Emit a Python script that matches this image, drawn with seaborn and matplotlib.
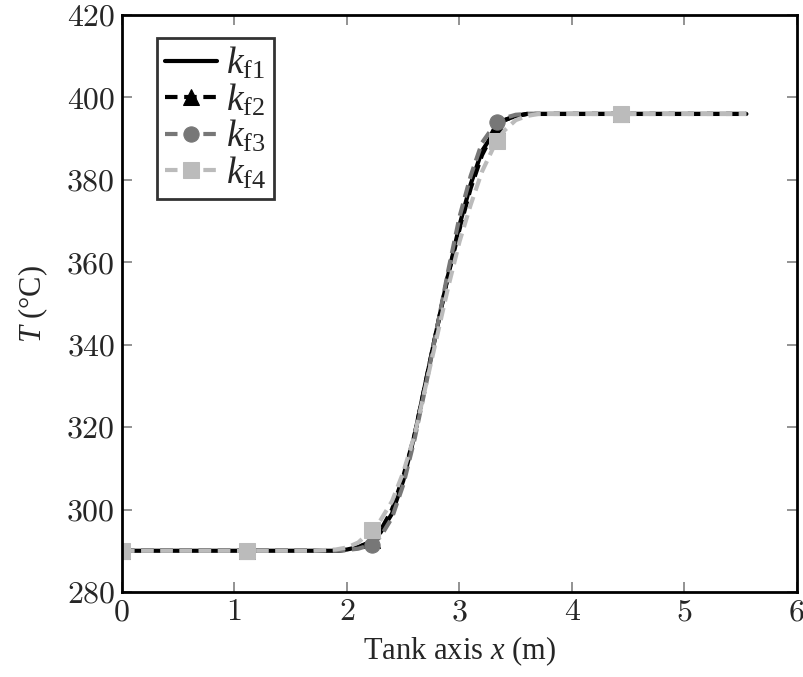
import numpy as np
import pandas as pd
import matplotlib
matplotlib.use("Agg")
import matplotlib.pyplot as plt
import seaborn as sns

# positions along the tank (m)
x_pos = [0.0, 0.555, 1.11, 1.665, 1.9, 2.0, 2.1, 2.22, 2.3, 2.4, 2.5, 2.6, 2.7,
         2.8, 2.9, 3.0, 3.1, 3.2, 3.33, 3.4, 3.5, 3.6, 3.7, 3.85, 4.44, 5.0, 5.55]
mark_idx = [0, 2, 7, 18, 24]

# temperatures (degC)
T_kf1 = [290, 290, 290, 290, 290, 290.3, 290.9, 292.3, 294.5, 299, 307, 318, 331,
         344, 357, 369, 379, 387, 392.5, 394.5, 395.5, 396, 396, 396, 396, 396, 396]
T_kf2 = [290, 290, 290, 290, 290, 290.2, 290.7, 292.5, 295, 300, 308, 318, 331,
         344, 357, 368, 378, 386, 393, 394.5, 395.5, 396, 396, 396, 396, 396, 396]
T_kf3 = [290, 290, 290, 290, 290, 290.2, 290.5, 291.5, 293.5, 298, 306, 317, 330,
         344, 358, 371, 381, 389, 394, 395, 395.8, 396, 396, 396, 396, 396, 396]
T_kf4 = [290, 290, 290, 290, 290.3, 290.8, 292, 295, 297.5, 302, 309, 318, 330,
         342, 354, 365, 374, 382, 389.5, 392, 394.5, 395.5, 396, 396, 396, 396, 396]

series = [
    (T_kf1, r"$k_{\mathrm{f1}}$", "black", "-", None),
    (T_kf2, r"$k_{\mathrm{f2}}$", "black", (0, (3, 1.6)), "^"),
    (T_kf3, r"$k_{\mathrm{f3}}$", "#777777", (0, (3, 1.6)), "o"),
    (T_kf4, r"$k_{\mathrm{f4}}$", "#bbbbbb", (0, (3, 1.6)), "s"),
]

sns.set_style("white")
plt.rcParams["font.family"] = ["Liberation Serif", "DejaVu Serif"]
plt.rcParams["mathtext.fontset"] = "custom"
plt.rcParams["mathtext.rm"] = "Liberation Serif"
plt.rcParams["mathtext.it"] = "Liberation Serif:italic"

fig = plt.figure(figsize=(8.04, 6.77), dpi=100)
ax = fig.add_axes([0.1517, 0.1256, 0.8396, 0.8522])

for T, lab, col, ls, mk in series:
    df = pd.DataFrame({"x": x_pos, "T": T})
    kw = dict(marker=mk, markevery=mark_idx, markersize=11,
              markerfacecolor=col, markeredgecolor=col) if mk else {}
    sns.lineplot(data=df, x="x", y="T", ax=ax, color=col, linewidth=3,
                 linestyle=ls, label=lab, **kw)

ax.set_xlim(0, 6)
ax.set_ylim(280, 420)
ax.set_xticks(range(0, 7))
ax.set_yticks(range(280, 421, 20))
for lbl in ax.get_xticklabels() + ax.get_yticklabels():
    lbl.set_fontfamily("cmr10")
    lbl.set_fontsize(23)
ax.tick_params(direction="in", length=7, width=1.2, color="#808080",
               top=True, right=True, left=True, bottom=True, pad=5)
for s in ax.spines.values():
    s.set_linewidth(2)
    s.set_color("black")

ax.set_xlabel(r"Tank axis $x$ (m)", fontsize=22, labelpad=6)
ax.set_ylabel(r"$T$ (°C)", fontsize=22, labelpad=12)

leg = ax.legend(loc="upper left", bbox_to_anchor=(0.052, 0.96), fontsize=27,
                frameon=True, fancybox=False, edgecolor="black",
                handlelength=1.4, handletextpad=0.25, labelspacing=0.0,
                borderpad=0.2, borderaxespad=0)
leg.get_frame().set_linewidth(2)

fig.savefig("out.png", dpi=100)
